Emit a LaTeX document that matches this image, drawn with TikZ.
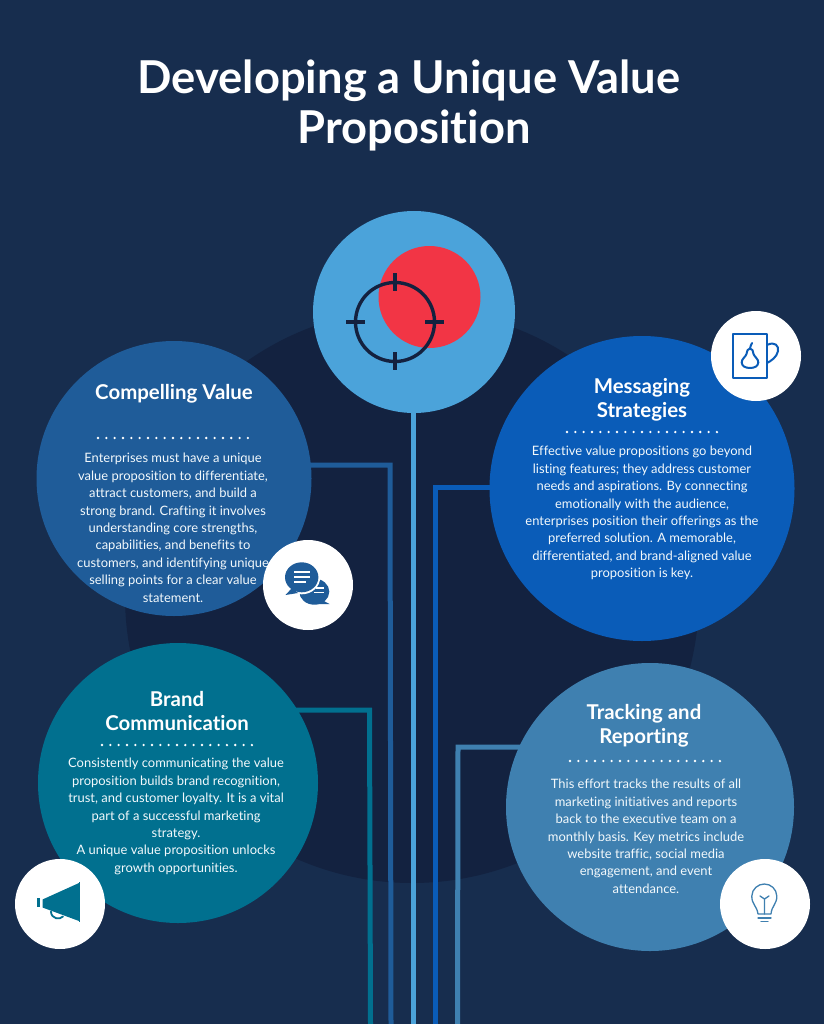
\documentclass[tikz,border=0pt]{standalone}
\usepackage{fontspec}
\setmainfont{Lato}[RawFeature={-liga;-dlig}]
\usetikzlibrary{backgrounds}
\definecolor{bgc}{HTML}{172D4E}
\definecolor{darkc}{HTML}{132240}
\definecolor{topc}{HTML}{4BA3DA}
\definecolor{redc}{HTML}{F23545}
\definecolor{inkc}{HTML}{14213F}
\definecolor{compc}{HTML}{1F5C99}
\definecolor{msgc}{HTML}{0A5CB8}
\definecolor{brandc}{HTML}{01708F}
\definecolor{trackc}{HTML}{3F80B0}
\tikzset{
  x=1pt,y=-1pt,
  disc/.style={circle,inner sep=0pt,outer sep=0pt,minimum size=#1},
  white disc/.style={disc=90pt,fill=white},
  wire/.style={line width=5pt,line join=miter},
  head/.style={text=white,font=\fontsize{20.4}{24.5}\selectfont\bfseries,align=center,inner sep=0pt},
  body/.style={text=white!93!topc,font=\fontsize{12.95}{17.45}\selectfont,align=center,inner sep=0pt},
  title/.style={text=white,font=\fontsize{45.3}{50}\selectfont\bfseries,align=center,inner sep=0pt},
  dots/.style={white,line width=2.6pt,line cap=round,dash pattern=on 0pt off 8.33pt},
  icon/.style={line width=#1,line join=round,line cap=round},
}
\pgfdeclarelayer{wires}
\pgfsetlayers{background,wires,main}
\begin{document}
\begin{tikzpicture}
\useasboundingbox (0,0) rectangle (824,1024);
\begin{pgfonlayer}{background}
\fill[bgc] (0,0) rectangle (824,1024);
\node[disc=574pt,fill=darkc] (big) at (412,596) {};
\end{pgfonlayer}

\node[title] (ttl) at (409,105) {Developing a Unique Value\\\hspace*{10pt}Proposition};

% Discs
\node[disc=202pt,fill=topc] (top) at (414,312) {};
\node[disc=275pt,fill=compc] (comp) at (174,478.5) {};
\node[disc=305pt,fill=msgc] (msg) at (642,488.5) {};
\node[disc=280pt,fill=brandc] (brand) at (178,783) {};
\node[disc=288pt,fill=trackc] (track) at (650,807) {};

% Connectors
\coordinate (jc) at (390,465);
\coordinate (jm) at (435,487);
\coordinate (jb) at (369.5,710);
\coordinate (jt) at (458,747);
\coordinate (ec) at (391,1024);
\coordinate (em) at (435,1024);
\coordinate (eb) at (370.5,1024);
\coordinate (et) at (457.5,1024);
\coordinate (e0) at (413,1024);
\begin{pgfonlayer}{wires}
\draw[wire,topc] (413,312) -- (e0);
\draw[wire,compc] (comp.center |- jc) -- (jc) -- (ec);
\draw[wire,msgc] (msg.center |- jm) -- (jm) -- (em);
\draw[wire,brandc] (brand.center |- jb) -- (jb) -- (eb);
\draw[wire,trackc] (track.center |- jt) -- (jt) -- (et);
\end{pgfonlayer}

% Target
\fill[redc] (429.5,297) circle[radius=51];
\draw[inkc,line width=3.4pt] (395,322) circle[radius=39.5];
\draw[inkc,line width=3.4pt] (395,273) -- (395,291) (395,352) -- (395,370)
  (346,322) -- (365,322) (425,322) -- (444,322);

% Texts
\node[head] (h1) at (174,394) {Compelling Value};
\draw[dots] (98,438) -- (249,438);
\node[body,anchor=north] (b1) at (173,453) {Enterprises must have a unique\\value proposition to differentiate,\\attract customers, and build a\\strong brand. Crafting it involves\\understanding core strengths,\\capabilities, and benefits to\\customers, and identifying unique\\selling points for a clear value\\statement.};

\node[head] (h2) at (642,400) {Messaging\\Strategies};
\draw[dots] (567,432) -- (718,432);
\node[body,anchor=north] (b2) at (642,446) {Effective value propositions go beyond\\listing features; they address customer\\needs and aspirations. By connecting\\emotionally with the audience,\\enterprises position their offerings as the\\preferred solution. A memorable,\\differentiated, and brand-aligned value\\proposition is key.};

\node[head] (h3) at (177,711) {Brand\\Communication};
\draw[dots] (102,745) -- (252,745);
\node[body,anchor=north] (b3) at (176,758) {Consistently communicating the value\\proposition builds brand recognition,\\trust, and customer loyalty. It is a vital\\part of a successful marketing\\strategy.\\A unique value proposition unlocks\\growth opportunities.};

\node[head] (h4) at (644,726) {Tracking and\\Reporting};
\draw[dots] (570,761) -- (721,761);
\node[body,anchor=north] (b4) at (646,779) {This effort tracks the results of all\\marketing initiatives and reports\\back to the executive team on a\\monthly basis. Key metrics include\\website traffic, social media\\engagement, and event\\attendance.};

% White icon discs
\node[white disc] (w1) at (308,585) {};
\node[white disc] (w2) at (756,356) {};
\node[white disc] (w3) at (60,904) {};
\node[white disc] (w4) at (765,904) {};

% Chat icon
\fill[compc] (314.3,591.7) ellipse[x radius=15,y radius=13];
\fill[compc] (322,600) -- (329.5,604) -- (316,604) -- cycle;
\fill[white] (301.7,577.3) ellipse[x radius=18.5,y radius=17];
\fill[compc] (301.7,577.3) ellipse[x radius=16.7,y radius=15];
\fill[compc] (292,588) -- (285.5,595) -- (298,593) -- cycle;
\draw[white,line width=1.8pt] (294,572.3) -- (310,572.3) (294,577.3) -- (310,577.3) (294,582.3) -- (306,582.3);
\draw[white,line width=1.4pt] (316,588) -- (324,588) (314,592.5) -- (324,592.5);

% Mug icon
\draw[msgc,icon=2pt] (732.5,333.5) rectangle (767,378);
\draw[msgc,icon=2pt] (767,345) .. controls (775,341) and (779,346) .. (778,351) .. controls (777,357) and (771,361) .. (767,363);
\draw[msgc,icon=2pt] (750,348.5) .. controls (752.5,348.5) and (753,351) .. (753.5,354) .. controls (754.5,357) and (758.5,359) .. (758.3,362.5) .. controls (758,366) and (755,368) .. (750,368) .. controls (745,368) and (742,366) .. (741.7,362.5) .. controls (741.5,359) and (745.5,357) .. (746.5,354) .. controls (747,351) and (747.5,348.5) .. (750,348.5) .. controls (750.5,346) and (751,344.5) .. (752,343);

% Megaphone icon
\fill[brandc] (42.5,899.5) -- (79,883) -- (79,921) -- (42.5,907.5) -- cycle;
\fill[brandc] (78.5,881.5) rectangle (80,921.5);
\fill[brandc] (36.5,897.5) rectangle (39.5,907);
\draw[brandc,icon=1.8pt] (51,911.5) .. controls (51,919) and (60,920) .. (63,916.5);

% Bulb icon
\draw[trackc,icon=1.3pt] (758,914) .. controls (757,906) and (751.5,904) .. (751.8,896) .. controls (752,889) and (758,884) .. (764.3,884) .. controls (771,884) and (776.5,889) .. (776.8,896) .. controls (777,904) and (771.5,906) .. (771,914) -- cycle;
\draw[trackc,icon=1.3pt] (758,918) -- (771,918) (761,921.5) -- (768,921.5);
\draw[trackc,icon=1.3pt] (764.5,914) -- (764.5,899) (760,896) -- (764.5,899) -- (769,896);
\end{tikzpicture}
\end{document}
